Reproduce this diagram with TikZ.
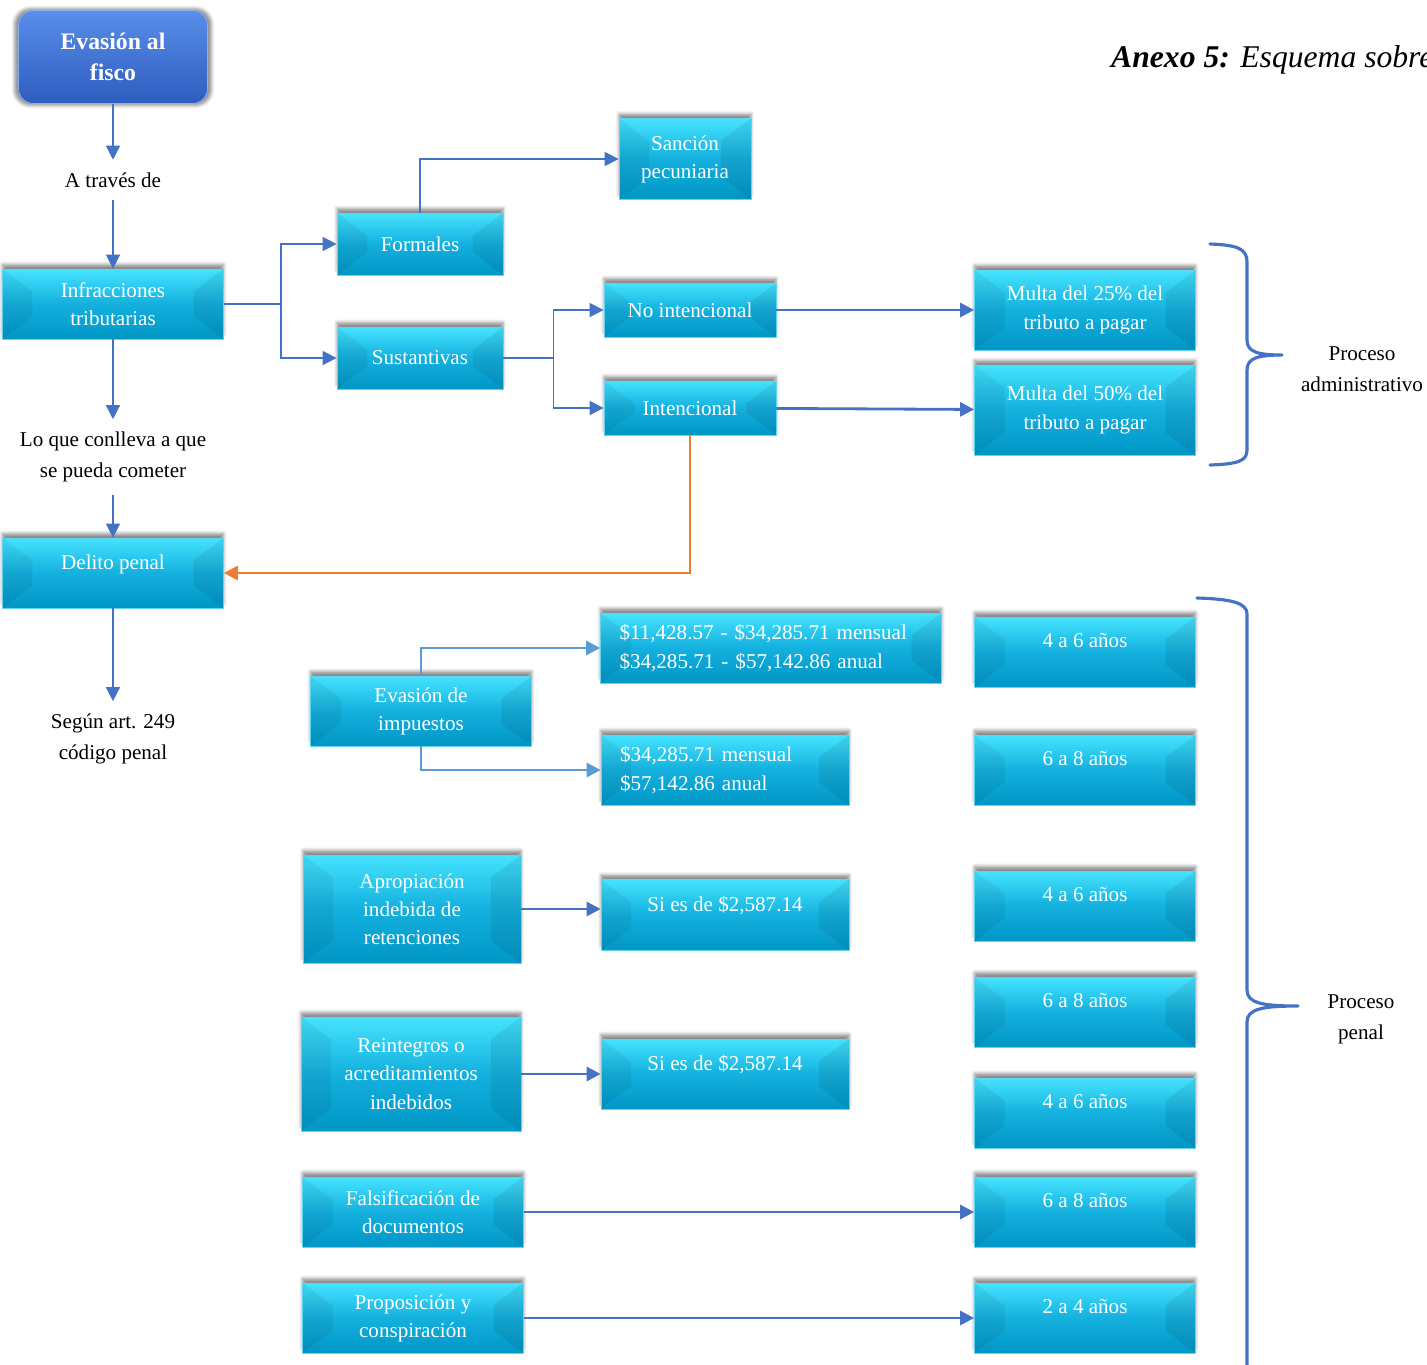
\documentclass[tikz,border=0pt]{standalone}
\usepackage{fontspec}
\setmainfont{Liberation Serif}
\usetikzlibrary{arrows.meta,shadows.blur}

\definecolor{boxtop}{HTML}{45E3FF}
\definecolor{boxmid}{HTML}{14B0DE}
\definecolor{boxbot}{HTML}{0096C6}
\definecolor{boxedge}{HTML}{62D4F2}
\definecolor{headtop}{HTML}{5A8EEA}
\definecolor{headbot}{HTML}{2D5CBF}
\definecolor{linkblue}{HTML}{4472C4}
\definecolor{linklight}{HTML}{5B9BD5}
\definecolor{linkorange}{HTML}{ED7D31}

\tikzset{
  bevel/.style={path picture={
    \fill[black, opacity=0.06] (path picture bounding box.north west)
      -- ([shift={(6mm,-4.5mm)}]path picture bounding box.north west)
      -- ([shift={(6mm,4.5mm)}]path picture bounding box.south west)
      -- (path picture bounding box.south west) -- cycle;
    \fill[black, opacity=0.07] (path picture bounding box.north east)
      -- ([shift={(-6mm,-4.5mm)}]path picture bounding box.north east)
      -- ([shift={(-6mm,4.5mm)}]path picture bounding box.south east)
      -- (path picture bounding box.south east) -- cycle;
  }}
}

\begin{document}
\begin{tikzpicture}[x=0.2mm, y=-0.2mm,
    cell/.style={rectangle, draw=boxedge, line width=0.4pt,
      top color=boxtop, bottom color=boxbot, middle color=boxmid,
      text=white, align=center, inner sep=1mm,
      font=\fontsize{12}{16}\selectfont, bevel,
      blur shadow={shadow xshift=0mm, shadow yshift=0.9mm, shadow opacity=45}},
    wide/.style={minimum width=44.2mm, minimum height=14mm},
    raised/.style={text depth=4.5mm},
    head/.style={rectangle, rounded corners=3mm, draw=headtop!70!white,
      top color=headtop, bottom color=headbot, text=white, align=center,
      font=\bfseries\fontsize{13.5}{18}\selectfont,
      minimum width=37.8mm, minimum height=18.6mm,
      blur shadow={shadow xshift=0mm, shadow yshift=0mm, shadow scale=1.04, shadow opacity=45}},
    lbl/.style={align=center, inner sep=2.5mm, font=\fontsize{12}{17.5}\selectfont},
    link/.style={draw=linkblue, line width=0.8pt, -{Triangle[length=2.8mm, width=2.8mm]}},
    thicklink/.style={link, line width=1.6pt},
    lightlink/.style={thicklink, draw=linklight},
    orangelink/.style={thicklink, draw=linkorange},
    brace/.style={draw=linkblue, line width=1.8pt, line cap=round, line join=round}
  ]
  \useasboundingbox (0,0) rectangle (1427,1364);

  % left column
  \node[head] (evasion) at (113,57) {Evasión al\\ fisco};
  \node[lbl] (atraves) at (113,180) {A través de};
  \node[cell, wide] (infracciones) at (113,304) {Infracciones\\ tributarias};
  \node[lbl] (conlleva) at (113,457) {Lo que conlleva a que\\ se pueda cometer};
  \node[cell, wide, raised] (delito) at (113,573) {Delito penal};
  \node[lbl] (segun) at (113,739) {Según art. 249\\ código penal};

  % infracciones
  \node[cell, minimum width=33.2mm, minimum height=12.4mm] (formales) at (420,244) {Formales};
  \node[cell, minimum width=33.2mm, minimum height=12.4mm] (sustantivas) at (420,358) {Sustantivas};
  \node[cell, minimum width=26.4mm, minimum height=16.2mm] (sancion) at (685,159) {Sanción\\ pecuniaria};
  \node[cell, minimum width=34.4mm, minimum height=10.8mm] (nointencional) at (690,310) {No intencional};
  \node[cell, minimum width=34.4mm, minimum height=10.8mm] (intencional) at (690,408) {Intencional};
  \node[cell, minimum width=44.2mm, minimum height=16mm] (multaA) at (1085,310) {Multa del 25\% del\\ tributo a pagar};
  \node[cell, minimum width=44.2mm, minimum height=18mm] (multaB) at (1085,410) {Multa del 50\% del\\ tributo a pagar};

  % delitos
  \node[cell, wide] (evimpuestos) at (421,711) {Evasión de\\ impuestos};
  \node[cell, minimum height=14mm, text width=60.6mm, inner xsep=3.8mm, align=left] (rangoA) at (771,648)
    {\$11,428.57 - \$34,285.71 mensual\\ \$34,285.71 - \$57,142.86 anual};
  \node[cell, minimum height=14mm, text width=42mm, inner xsep=3.8mm, align=left] (rangoB) at (725,770)
    {\$34,285.71 mensual\\ \$57,142.86 anual};
  \node[cell, minimum width=43.6mm, minimum height=21.6mm] (apropiacion) at (412,909) {Apropiación\\ indebida de\\ retenciones};
  \node[cell, minimum width=49.6mm, minimum height=14.2mm, raised] (siesA) at (725,915) {Si es de \$2,587.14};
  \node[cell, minimum width=44mm, minimum height=22.8mm] (reintegros) at (411,1074) {Reintegros o\\ acreditamientos\\ indebidos};
  \node[cell, minimum width=49.6mm, minimum height=14mm, raised] (siesB) at (725,1074) {Si es de \$2,587.14};
  \node[cell, wide] (falsificacion) at (413,1212) {Falsificación de\\ documentos};
  \node[cell, wide] (proposicion) at (413,1318) {Proposición y\\ conspiración};

  % penas
  \node[cell, wide, raised] (anosA) at (1085,652) {4 a 6 años};
  \node[cell, wide, raised] (anosB) at (1085,770) {6 a 8 años};
  \node[cell, wide, raised] (anosC) at (1085,906) {4 a 6 años};
  \node[cell, wide, raised] (anosD) at (1085,1012) {6 a 8 años};
  \node[cell, wide, raised] (anosE) at (1085,1113) {4 a 6 años};
  \node[cell, wide, raised] (anosF) at (1085,1212) {6 a 8 años};
  \node[cell, wide, raised] (anosG) at (1085,1318) {2 a 4 años};

  \node[lbl] (procadmin) at (1362,369) {Proceso\\ administrativo};
  \node[lbl] (procpenal) at (1361,1019) {Proceso\\ penal};
  \node[anchor=base west, font=\itshape\fontsize{18}{22}\selectfont] (titulo) at (1105,67)
    {\textbf{Anexo 5:} Esquema sobre};

  % connectors
  \draw[link] (evasion) -- (atraves);
  \draw[link] (atraves) -- (infracciones);
  \draw[link] (infracciones) -- (conlleva);
  \draw[link] (conlleva) -- (delito);
  \draw[link] (delito) -- (segun);
  \draw[link] (infracciones.east) -- ++(57,0) |- (formales);
  \draw[link] (infracciones.east) -- ++(57,0) |- (sustantivas);
  \draw[link] (formales) |- (sancion);
  \draw[link] (sustantivas.east) -- ++(50,0) |- (nointencional);
  \draw[link] (sustantivas.east) -- ++(50,0) |- (intencional);
  \draw[thicklink] (nointencional) -- (multaA);
  \draw[thicklink] (intencional) -- (multaB);
  \draw[orangelink] (intencional) |- (delito);
  \draw[lightlink] (evimpuestos) |- (rangoA);
  \draw[lightlink] (evimpuestos) |- (rangoB);
  \draw[thicklink] (apropiacion.east) -- (apropiacion.east -| siesA.west);
  \draw[thicklink] (reintegros) -- (siesB);
  \draw[thicklink] (falsificacion) -- (anosF);
  \draw[thicklink] (proposicion) -- (anosG);

  % braces
  \draw[brace] (1210,244) .. controls (1238,245) and (1247,249) .. (1247,262)
    -- (1247,340) .. controls (1247,352) and (1258,355) .. (1282,355)
    .. controls (1258,355) and (1247,358) .. (1247,370)
    -- (1247,450) .. controls (1247,461) and (1238,464) .. (1210,465);
  \draw[brace] (1197,598) .. controls (1232,599) and (1247,603) .. (1247,614)
    -- (1247,990) .. controls (1247,1003) and (1262,1006) .. (1298,1006)
    .. controls (1262,1006) and (1247,1009) .. (1247,1022)
    -- (1247,1380);
\end{tikzpicture}
\end{document}
